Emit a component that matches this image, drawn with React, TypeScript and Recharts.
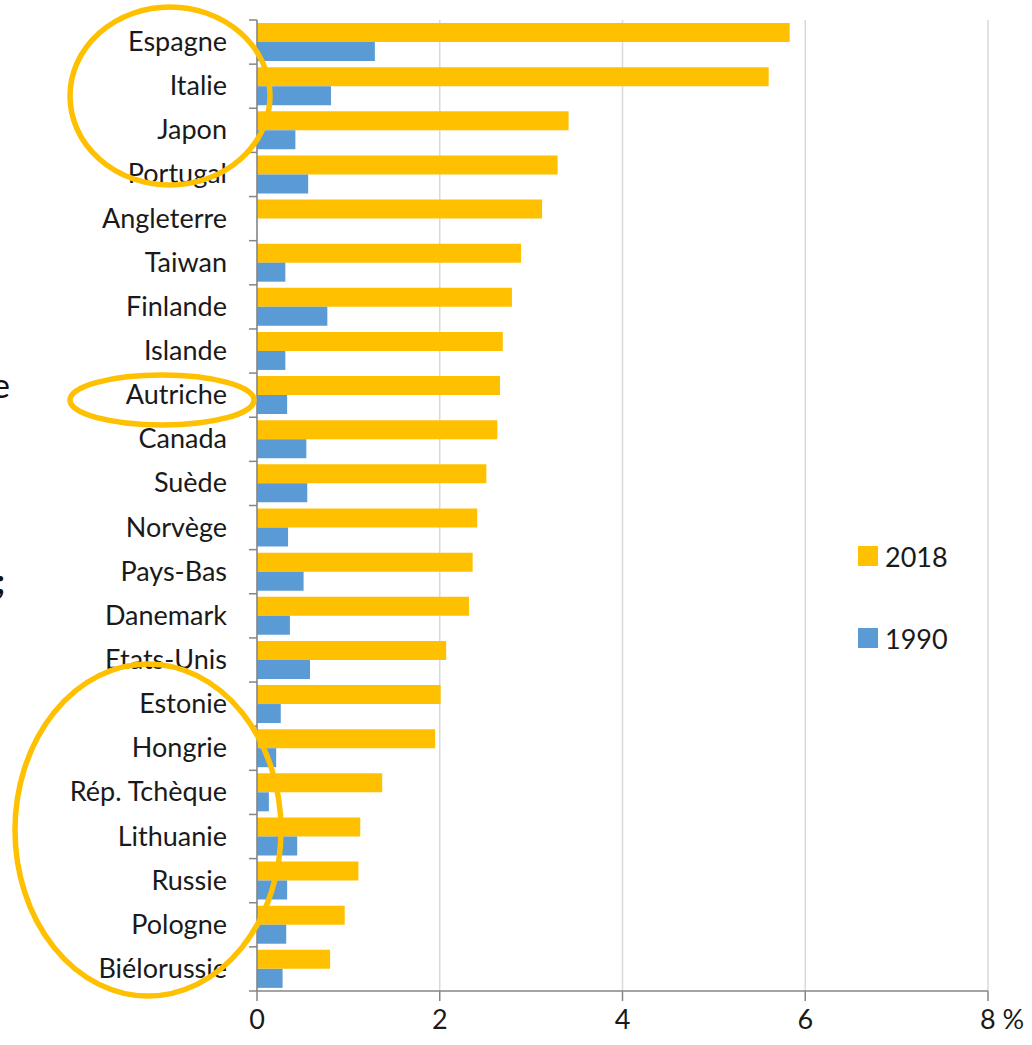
import { BarChart, Bar, XAxis, YAxis, CartesianGrid } from 'recharts';

const countries = [
  'Espagne', 'Italie', 'Japon', 'Portugal', 'Angleterre', 'Taiwan', 'Finlande', 'Islande',
  'Autriche', 'Canada', 'Suède', 'Norvège', 'Pays-Bas', 'Danemark', 'Etats-Unis', 'Estonie',
  'Hongrie', 'Rép. Tchèque', 'Lithuanie', 'Russie', 'Pologne', 'Biélorussie',
];
const values2018 = [
  5.83, 5.6, 3.41, 3.29, 3.12, 2.89, 2.79, 2.69, 2.66, 2.63, 2.51,
  2.41, 2.36, 2.32, 2.07, 2.01, 1.95, 1.37, 1.13, 1.11, 0.96, 0.8,
];
const values1990 = [
  1.29, 0.81, 0.42, 0.56, 0, 0.31, 0.77, 0.31, 0.33, 0.54, 0.55,
  0.34, 0.51, 0.36, 0.58, 0.26, 0.21, 0.13, 0.44, 0.33, 0.32, 0.28,
];
const xTicks = [0, 2, 4, 6, 8];
const legendItems = [
  { label: '2018', color: '#FFC000' },
  { label: '1990', color: '#5B9BD5' },
];

const data = countries.map((c, i) => ({ country: c, y2018: values2018[i], y1990: values1990[i] }));

const ORANGE = '#FFC000';
const BLUE = '#5B9BD5';
const FONT = 'Lato, "Open Sans", sans-serif';

const W = 1032;
const H = 1045;
const TOP = 20;
const BOTTOM_AXIS = 54;
const PLOT_H = H - TOP - BOTTOM_AXIS;
const BAND = PLOT_H / countries.length;
const AXIS_X = 257;

const CountryTick = ({ y, payload, index }: any) => (
  <g>
    <line x1={AXIS_X - 8} x2={AXIS_X} y1={y - BAND / 2} y2={y - BAND / 2} stroke="#868686" strokeWidth={1.5} />
    {index === countries.length - 1 && (
      <line x1={AXIS_X - 8} x2={AXIS_X} y1={y + BAND / 2} y2={y + BAND / 2} stroke="#868686" strokeWidth={1.5} />
    )}
    <text x={AXIS_X - 30} y={y} dy={9} textAnchor="end" fontSize={27} fill="#1a1a1a" fontFamily={FONT}>
      {payload.value}
    </text>
  </g>
);

const ValueTick = ({ x, y, payload }: any) => {
  const last = payload.value === 8;
  return (
    <text x={last ? x - 8 : x} y={y} dy={26} textAnchor={last ? 'start' : 'middle'} fontSize={27} fill="#1a1a1a" fontFamily={FONT}>
      {last ? '8 %' : payload.value}
    </text>
  );
};

export default function App() {
  return (
    <div style={{ position: 'absolute', left: 0, top: 0, width: W, height: H, background: '#fff' }}>
      <BarChart
        width={W}
        height={H}
        data={data}
        layout="vertical"
        margin={{ top: TOP, right: 44, left: 0, bottom: 0 }}
        barGap={0}
        barSize={19}
      >
        <CartesianGrid horizontal={false} stroke="#D9D9D9" strokeWidth={1.5} />
        <XAxis
          type="number"
          domain={[0, 8]}
          ticks={xTicks}
          height={BOTTOM_AXIS}
          tick={<ValueTick />}
          tickLine={{ stroke: '#868686', strokeWidth: 1.5 }}
          tickSize={10}
          axisLine={{ stroke: '#868686', strokeWidth: 1.5 }}
          interval={0}
        />
        <YAxis
          type="category"
          dataKey="country"
          width={AXIS_X}
          tick={<CountryTick />}
          tickLine={false}
          axisLine={{ stroke: '#868686', strokeWidth: 1.5 }}
          interval={0}
        />
        <Bar dataKey="y2018" name="2018" fill={ORANGE} isAnimationActive={false} />
        <Bar dataKey="y1990" name="1990" fill={BLUE} isAnimationActive={false} />
      </BarChart>

      {/* legend, placed like the original on the right */}
      <div style={{ position: 'absolute', left: 858, top: 541, fontFamily: FONT, fontSize: 27, color: '#1a1a1a' }}>
        {legendItems.map((it, i) => (
          <div key={it.label} style={{ display: 'flex', alignItems: 'center', marginTop: i ? 52 : 0, height: 30 }}>
            <span style={{ width: 20, height: 20, background: it.color, display: 'inline-block', marginRight: 7 }} />
            {it.label}
          </div>
        ))}
      </div>

      <svg width={W} height={H} style={{ position: 'absolute', left: 0, top: 0, pointerEvents: 'none' }}>
        <ellipse cx={170} cy={96} rx={100} ry={89} fill="none" stroke={ORANGE} strokeWidth={5.5} />
        <ellipse cx={162} cy={400} rx={92} ry={25} fill="none" stroke={ORANGE} strokeWidth={5.5} />
        <ellipse cx={148} cy={830} rx={133} ry={166} fill="none" stroke={ORANGE} strokeWidth={5.5} />
        <text x={-8} y={398} fontSize={34} fontFamily={FONT} fill="#111">e</text>
        <text x={-4} y={594} fontSize={34} fontFamily={FONT} fontWeight={700} fill="#111">;</text>
      </svg>
    </div>
  );
}
